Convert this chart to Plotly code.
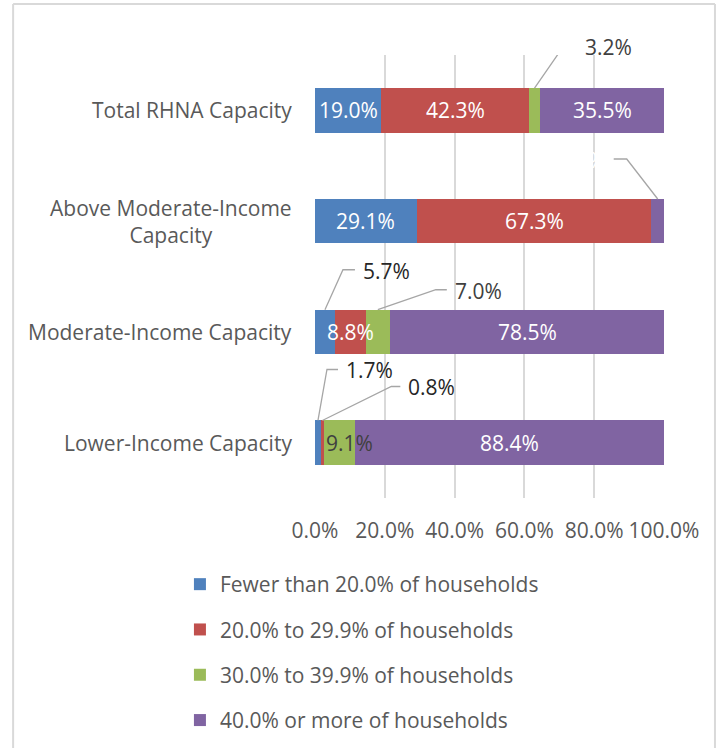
import plotly.graph_objects as go
import numpy as np

categories = ["Lower-Income Capacity", "Moderate-Income Capacity",
              "Above Moderate-Income<br>Capacity", "Total RHNA Capacity"]
series_names = ["Fewer than 20.0% of households", "20.0% to 29.9% of households",
                "30.0% to 39.9% of households", "40.0% or more of households"]
fewer_20 = [1.7, 5.7, 29.1, 19.0]
from_20_to_29 = [0.8, 8.8, 67.3, 42.3]
from_30_to_39 = [9.1, 7.0, 0.0, 3.2]
over_40 = [88.4, 78.5, 3.6, 35.5]
x_ticks = [0, 20, 40, 60, 80, 100]

colors = ["#4F81BD", "#C0504D", "#9BBB59", "#8064A2"]
FONT = "Open Sans"
FS = 21
GRAY = "#595959"

series = [fewer_20, from_20_to_29, from_30_to_39, over_40]
idx = list(range(len(categories)))

fig = go.Figure()
for name, vals, col in zip(series_names, series, colors):
    fig.add_trace(go.Bar(
        y=idx, x=vals, name=name, orientation="h",
        marker=dict(color=col, line=dict(width=0)),
        legendgroup=name, hoverinfo="skip",
    ))

# label positions from data
arr = np.array(series)
cum = np.cumsum(arr, axis=0)
starts = cum - arr
mids = starts + arr / 2

# inside labels: (series index, category index) -> (color, pixel shift)
inside = {
    (0, 3): ("white", 0), (1, 3): ("white", 0), (3, 3): ("white", 0),
    (0, 2): ("white", 0), (1, 2): ("white", 0),
    (1, 1): ("white", 0), (3, 1): ("white", 0),
    (2, 0): ("#404040", 10), (3, 0): ("white", 0),
}
annotations = []
for (s, c), (col, sh) in inside.items():
    annotations.append(dict(
        x=mids[s, c], y=c, xref="x", yref="y", showarrow=False,
        text=f"{arr[s, c]:.1f}%", xanchor="center", yanchor="middle", xshift=sh,
        font=dict(family=FONT, size=FS, color=col),
    ))

# outside labels with leader lines: (series, category, dx1, dy1, dx2, label color, side)
outside = [
    (2, 3, 29, 42, 42, "#404040", "left"),
    (3, 2, -31, 40, -44, "white", "right"),
    (0, 1, 18, 40, 30, "#262626", "left"),
    (2, 1, 58, 20, 69, "#404040", "left"),
    (0, 0, 9, 51, 20, "#262626", "left"),
    (1, 0, 69, 34, 78, "#262626", "left"),
]
shapes = []
for s, c, dx1, dy1, dx2, col, side in outside:
    xa = mids[s, c]
    ya = c + 0.2
    shapes.append(dict(
        type="path", xref="x", yref="y", xsizemode="pixel", ysizemode="pixel",
        xanchor=xa, yanchor=ya,
        path=f"M0,0 L{dx1},{dy1} L{dx2},{dy1}",
        line=dict(color="#A6A6A6", width=1.3),
    ))
    gap = 6 if side == "left" else -6
    annotations.append(dict(
        x=xa, y=ya, xref="x", yref="y", showarrow=False,
        text=f"{arr[s, c]:.1f}%", xanchor=side, yanchor="middle",
        xshift=dx2 + gap, yshift=dy1 - 1,
        font=dict(family=FONT, size=FS, color=col),
    ))

# category labels (centered multi-line)
for i, cat in enumerate(categories):
    annotations.append(dict(
        x=0, y=i, xref="paper", yref="y", showarrow=False, text=cat,
        xanchor="right", yanchor="middle", xshift=-21, align="center",
        font=dict(family=FONT, size=FS, color=GRAY),
    ))

# chart border
bc = "#D9D9D9"
shapes += [
    dict(type="line", xref="paper", yref="paper", x0=-0.865, x1=-0.865, y0=1.115, y1=-0.65,
         line=dict(color=bc, width=2)),
    dict(type="line", xref="paper", yref="paper", x0=-0.865, x1=1.146, y0=1.115, y1=1.115,
         line=dict(color=bc, width=2)),
    dict(type="line", xref="paper", yref="paper", x0=1.146, x1=1.146, y0=1.115, y1=-0.65,
         line=dict(color=bc, width=2)),
]

fig.update_layout(
    barmode="stack", bargap=0.6,
    width=719, height=748,
    margin=dict(l=315, r=55, t=55, b=250, autoexpand=False),
    paper_bgcolor="white", plot_bgcolor="white",
    font=dict(family=FONT, size=FS, color=GRAY),
    shapes=shapes, annotations=annotations,
    legend=dict(orientation="v", x=-0.387, xanchor="left", y=-0.149, yanchor="top",
                font=dict(family=FONT, size=FS, color=GRAY), tracegroupgap=15,
                itemwidth=30),
    xaxis=dict(range=[0, 100], tickvals=x_ticks,
               ticktext=[f"{v:.1f}%" for v in x_ticks],
               showgrid=True, gridcolor="#D9D9D9", gridwidth=1.5,
               zeroline=False, showline=False, ticks="", ticklen=0,
               ticklabelstandoff=18,
               tickfont=dict(family=FONT, size=FS, color=GRAY)),
    yaxis=dict(range=[-0.5, 3.5], showticklabels=False, showgrid=False,
               zeroline=False, showline=False, ticks=""),
)

fig.write_html(
    "out.html",
    config={"displayModeBar": False},
    post_script="document.body.style.margin='0';document.body.style.overflow='hidden';"
                "document.documentElement.style.overflow='hidden';",
)
